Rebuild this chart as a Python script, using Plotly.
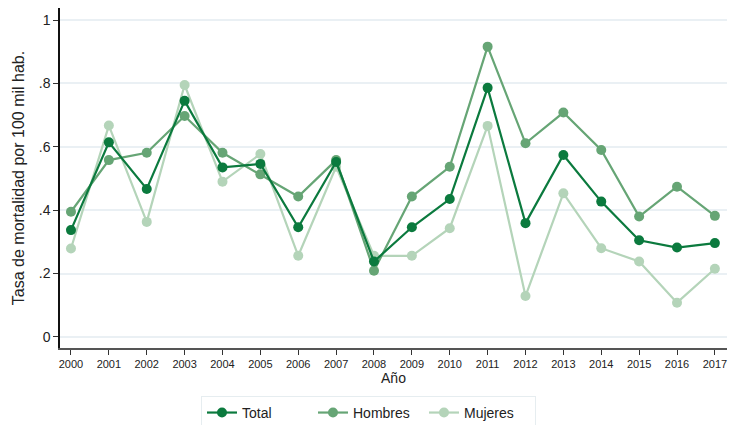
import plotly.graph_objects as go

years = list(range(2000, 2018))
total = [0.337, 0.614, 0.467, 0.745, 0.535, 0.546, 0.346, 0.552, 0.238, 0.346, 0.435, 0.786,
         0.359, 0.574, 0.427, 0.305, 0.282, 0.296]
hombres = [0.395, 0.558, 0.581, 0.697, 0.581, 0.513, 0.443, 0.558, 0.209, 0.443, 0.537, 0.916,
           0.611, 0.708, 0.590, 0.380, 0.474, 0.382]
mujeres = [0.279, 0.667, 0.363, 0.795, 0.490, 0.577, 0.256, 0.537, 0.256, 0.256, 0.343, 0.666,
           0.129, 0.453, 0.280, 0.238, 0.108, 0.215]

series = [("Total", total, "#0b7a3e"), ("Hombres", hombres, "#66a575"), ("Mujeres", mujeres, "#b4d4b9")]
ytickvals = [0, 0.2, 0.4, 0.6, 0.8, 1]
yticktext = ["0", ".2", ".4", ".6", ".8", "1"]

fig = go.Figure()
for name, vals, col in reversed(series):
    fig.add_trace(go.Scatter(x=years, y=vals, name=name, mode="lines+markers",
                             line=dict(color=col, width=2.2),
                             marker=dict(color=col, size=10)))

# the page body has an 8px default margin, so the figure is sized to fit the window
fig.update_layout(
    width=730, height=417,
    margin=dict(l=52, r=11, t=0, b=77, autoexpand=False),
    paper_bgcolor="white", plot_bgcolor="white",
    font=dict(family="Liberation Sans, Arial, sans-serif", color="#222"),
    legend=dict(orientation="h", x=0.4625, xanchor="center", y=-0.141, yanchor="top",
                bordercolor="#e6edf0", borderwidth=1, font=dict(size=14),
                traceorder="reversed", itemwidth=30, entrywidth=66),
    showlegend=True,
)
fig.update_xaxes(range=[1999.71, 2017.32], tickvals=years, ticks="outside", ticklen=5,
                 tickcolor="#333", showline=True, linecolor="#555", linewidth=1.5,
                 showgrid=False, tickfont=dict(size=11), automargin=False,
                 title=dict(text="Año", font=dict(size=14), standoff=4))
fig.update_yaxes(range=[-0.035, 1.038], tickvals=ytickvals, ticktext=yticktext,
                 ticks="outside", ticklen=5, tickcolor="#333", showline=True,
                 linecolor="#111", linewidth=1.5, showgrid=True, gridcolor="#eaf0f4",
                 gridwidth=1.5, zeroline=False, tickfont=dict(size=14), automargin=False,
                 title=dict(text="Tasa de mortalidad por 100 mil hab.", font=dict(size=16), standoff=10))

fig.write_html("out.html")
